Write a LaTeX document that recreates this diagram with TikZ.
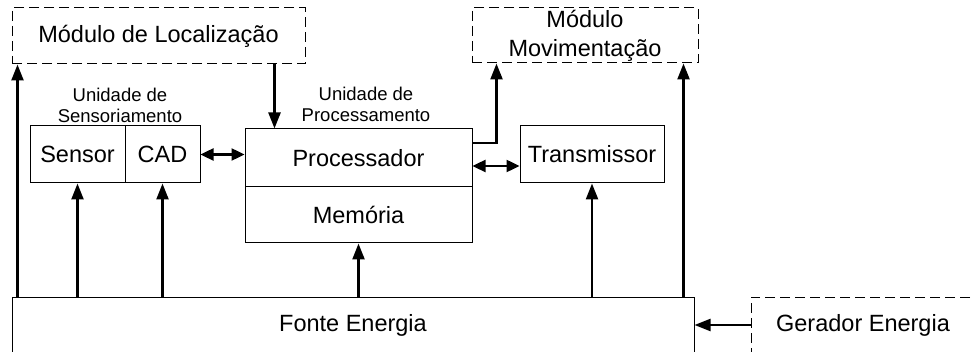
\documentclass[tikz,border=0pt]{standalone}
\usepackage{fontspec}
\setmainfont{Liberation Sans}
\usetikzlibrary{arrows.meta,calc}
\begin{document}
\begin{tikzpicture}[x=1pt,y=-1pt,
  box/.style={draw, line width=1pt, inner sep=0pt, font=\fontsize{23.5}{29}\selectfont, align=center},
  dbox/.style={box, dash pattern=on 10pt off 5pt},
  arr/.style={line width=2.4pt, -{Triangle[length=16pt,width=12pt]}},
  darr/.style={line width=2.4pt, {Triangle[length=13pt,width=12pt]}-{Triangle[length=13pt,width=12pt]}},
  lbl/.style={font=\fontsize{18.5}{21}\selectfont, align=center, inner sep=0pt}]
\clip (0,0) rectangle (973,352);
\useasboundingbox (0,0) rectangle (973,352);

\node[dbox, minimum width=293pt, minimum height=56pt] (loc) at (158.5,36) {Módulo de Localização};
\node[dbox, minimum width=226pt, minimum height=55pt] (mov) at (585,35.5) {Módulo\\Movimentação};

\node[lbl] (lsens) at (120,105) {Unidade de\\Sensoriamento};
\node[lbl] (lproc) at (366,104) {Unidade de\\Processamento};

\node[box, minimum width=95pt, minimum height=57pt] (sensor) at (77.5,154.5) {Sensor};
\node[box, minimum width=75pt, minimum height=57pt] (cad) at (162.5,154.5) {CAD};
\node[box, minimum width=227pt, minimum height=58pt] (proc) at (358.5,158) {Processador};
\node[box, minimum width=227pt, minimum height=56pt] (mem) at (358.5,215) {Memória};
\node[box, minimum width=144pt, minimum height=57pt] (trans) at (592,154.5) {Transmissor};

\node[box, minimum width=682pt, minimum height=56pt] (fonte) at (353,325) {Fonte Energia};
\node[dbox, minimum width=224pt, minimum height=56pt] (ger) at (863,325) {Gerador Energia};

\coordinate (pt) at ([yshift=-8pt]proc.east);
\coordinate (pm) at ([yshift=15pt]proc.east);

% arrows
\draw[arr] ([xshift=6pt]fonte.north west) -- ([xshift=6pt]loc.south west);
\draw[arr] ([xshift=-31pt]loc.south east) -- ([xshift=30pt]proc.north west);
\draw[arr] (fonte.north -| sensor) -- (sensor.south);
\draw[arr] (fonte.north -| cad) -- (cad.south);
\draw[arr] (fonte.north -| mem) -- (mem.south);
\draw[arr] (fonte.north -| trans) -- (trans.south);
\draw[arr] ([xshift=-11pt]fonte.north east) -- ([xshift=-15pt]mov.south east);
\draw[arr] (pm) -| ([xshift=25pt]mov.south west);
\draw[darr] (cad.east) -- (proc.west |- cad.east);
\draw[darr] (pt) -- (trans.west |- pt);
\draw[arr] (ger.west) -- (fonte.east |- ger.west);
\end{tikzpicture}
\end{document}
